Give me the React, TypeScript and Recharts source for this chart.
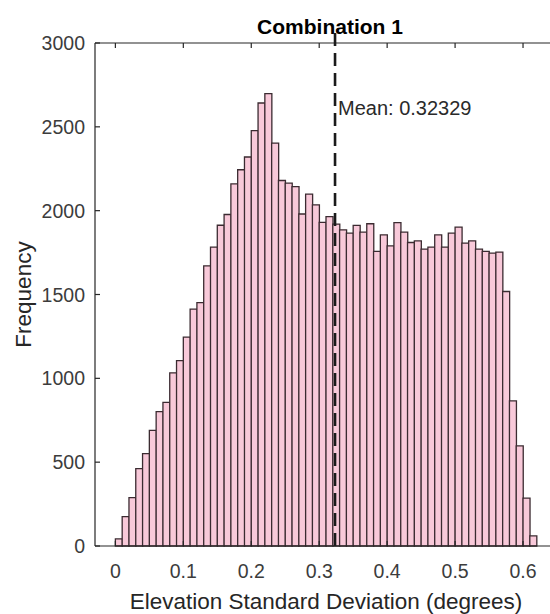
import { Bar, BarChart, ReferenceLine, XAxis, YAxis } from "recharts"

// histogram bins are 0.01 wide, starting at 0
const binWidth = 0.01
const counts = [
  42, 175, 288, 461, 551, 690, 802, 857, 1033, 1106,
  1246, 1413, 1452, 1671, 1783, 1913, 1977, 2160, 2244, 2320,
  2477, 2642, 2698, 2403, 2180, 2164, 2143, 1980, 2099, 2035,
  1930, 1965, 1920, 1886, 1866, 1912, 1872, 1922, 1757, 1856,
  1790, 1929, 1872, 1810, 1820, 1771, 1783, 1856, 1783, 1866,
  1902, 1807, 1820, 1771, 1757, 1747, 1753, 1518, 865, 597,
  285, 60,
]
const xTicks = [0, 0.1, 0.2, 0.3, 0.4, 0.5, 0.6]
const yTicks = [0, 500, 1000, 1500, 2000, 2500, 3000]
const yMax = 3000
const meanValue = 0.32329
// the mean line pokes a little above the axes box, like in the original
const meanLineTop = 3060

const data = counts.map((count, i) => ({ x: +(binWidth * (i + 0.5)).toFixed(3), count }))

const font = "'Liberation Sans', Arial, Helvetica, sans-serif"
const axisColor = "#262626"
const tickColor = "#3c3c3c"
const plotHeight = 503

function BottomTick({ x, y, payload }: any) {
  return (
    <g>
      <line x1={x} x2={x} y1={y} y2={y - 5} stroke={axisColor} strokeWidth={1.2} />
      <line x1={x} x2={x} y1={y - plotHeight} y2={y - plotHeight + 5} stroke={axisColor} strokeWidth={1.2} />
      <text x={x} y={y + 32} textAnchor="middle" fill={tickColor} fontSize={19.5} fontFamily={font}>
        {payload.value}
      </text>
    </g>
  )
}

function LeftTick({ x, y, payload }: any) {
  return (
    <g>
      <line x1={x} x2={x + 5} y1={y} y2={y} stroke={axisColor} strokeWidth={1.2} />
      <text x={x - 10} y={y} dy="0.36em" textAnchor="end" fill={tickColor} fontSize={19.5} fontFamily={font}>
        {payload.value}
      </text>
    </g>
  )
}

function MeanLabel(props: any) {
  const vb = props.viewBox || { x: 0, y: 0 }
  return (
    <text x={vb.x + 3} y={vb.y + 72} fill="#2a2a2a" fontSize={20} fontFamily={font}>
      Mean: {meanValue}
    </text>
  )
}

export default function App() {
  return (
    <div
      style={{
        position: "absolute",
        left: 0,
        top: 0,
        width: 550,
        height: 614,
        overflow: "hidden",
        background: "#fff",
        fontFamily: font,
      }}
    >
      <div
        style={{
          position: "absolute",
          left: 0,
          top: 16,
          width: 660,
          textAlign: "center",
          fontSize: 21,
          lineHeight: "21px",
          fontWeight: "bold",
          color: "#000",
        }}
      >
        Combination 1
      </div>
      <BarChart
        width={570}
        height={614}
        data={data}
        margin={{ top: 43, right: 13, bottom: 0, left: 0 }}
        barCategoryGap={0}
        barGap={0}
      >
        <XAxis
          dataKey="x"
          type="number"
          domain={[-0.03, 0.65]}
          ticks={xTicks}
          height={68}
          tickSize={0}
          tickMargin={0}
          tickLine={false}
          axisLine={{ stroke: axisColor, strokeWidth: 1.2 }}
          tick={<BottomTick />}
          label={{
            value: "Elevation Standard Deviation (degrees)",
            position: "insideBottom",
            offset: 5.5,
            fill: "#262626",
            fontSize: 22.5,
            fontFamily: font,
          }}
        />
        <YAxis
          type="number"
          domain={[0, yMax]}
          ticks={yTicks}
          width={95}
          tickSize={0}
          tickMargin={0}
          tickLine={false}
          axisLine={{ stroke: axisColor, strokeWidth: 1.2 }}
          tick={<LeftTick />}
          label={{
            value: "Frequency",
            angle: -90,
            position: "insideLeft",
            offset: 23,
            fill: "#262626",
            fontSize: 22.5,
            fontFamily: font,
            style: { textAnchor: "middle" },
          }}
        />
        <Bar
          dataKey="count"
          fill="#f8c9d9"
          stroke="#3b2b31"
          strokeWidth={1.3}
          isAnimationActive={false}
        />
        <ReferenceLine y={yMax} stroke={axisColor} strokeWidth={1.2} />
        <ReferenceLine
          segment={[
            { x: meanValue, y: meanLineTop },
            { x: meanValue, y: 0 },
          ]}
          ifOverflow="visible"
          stroke="#1a1a1a"
          strokeWidth={2.6}
          strokeDasharray="13 7"
        />
        <ReferenceLine x={meanValue} stroke="none" label={<MeanLabel />} />
      </BarChart>
    </div>
  )
}
